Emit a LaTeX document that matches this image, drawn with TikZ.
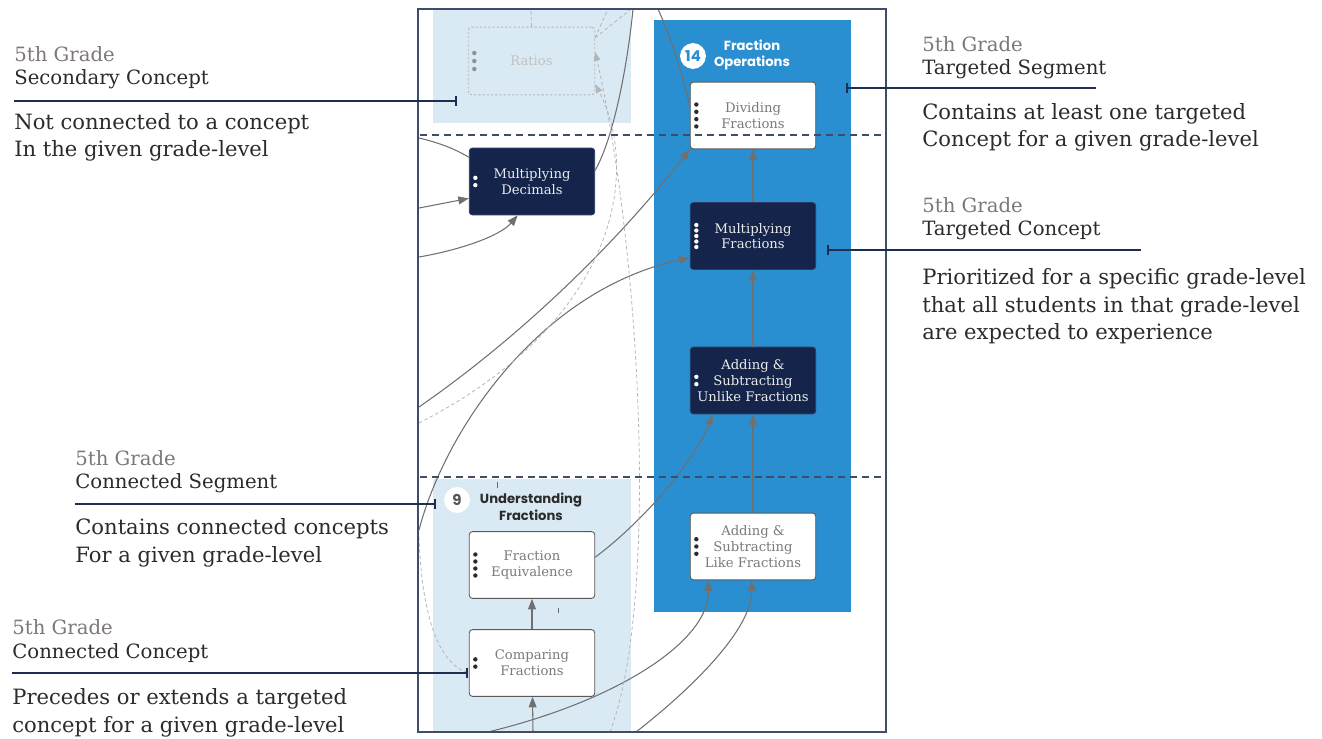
\documentclass[tikz,border=0pt]{standalone}
\usepackage{fontspec}
\setmainfont{DejaVu Serif}
\newfontfamily\segfont{Poppins}
\usetikzlibrary{arrows.meta,calc}

\definecolor{navy}{HTML}{14244A}
\definecolor{navyline}{HTML}{2A3A60}
\definecolor{segblue}{HTML}{2A8FD0}
\definecolor{seglight}{HTML}{DAEAF5}
\definecolor{framec}{HTML}{3F4D6B}
\definecolor{calloutc}{HTML}{1F2D50}
\definecolor{linkgray}{HTML}{707070}
\definecolor{ghost}{HTML}{B5B5B5}
\definecolor{capgray}{HTML}{7D7777}
\definecolor{darktext}{HTML}{2B2B2B}
\definecolor{boxtext}{HTML}{7A7A7A}
\definecolor{boxline}{HTML}{5A5A5A}

% dots on the left side of a concept box: node, count, spacing, colour
\newcommand{\conceptdots}[4]{%
  \foreach \k in {1,...,#2}
    \fill[#4] ($(#1.west)+(6.5,{(\k-(#2+1)/2)*#3})$) circle (1.25pt);}

\tikzset{
  concept/.style={draw=boxline, fill=white, rounded corners=1.8pt, line width=0.5pt,
    minimum width=71.4pt, minimum height=38pt, inner sep=1pt, align=center,
    text=boxtext, font=\fontsize{7.5}{9}\selectfont},
  targeted/.style={concept, fill=navy, draw=navyline, text=white!92!black},
  ghostbox/.style={concept, draw=ghost, fill=none, text=ghost!85!white,
    dash pattern=on 1.2pt off 1.2pt, minimum width=72pt, minimum height=38.5pt},
  link/.style={draw=linkgray, line width=0.6pt, -{Triangle[length=6pt,width=4.5pt]}},
  plainlink/.style={draw=linkgray, line width=0.6pt},
  ghostlink/.style={draw=ghost, dash pattern=on 2pt off 1.5pt, line width=0.45pt},
  ghostarrow/.style={ghostlink, -{Triangle[length=5pt,width=3.8pt]}},
  callout/.style={draw=calloutc, line width=0.7pt, -{Bar[width=6pt,line width=1pt]}},
  badge/.style={circle, fill=white, inner sep=0pt, minimum size=14.7pt,
    font=\segfont\bfseries\fontsize{8.5}{10}\selectfont},
  segtitle/.style={align=center, inner sep=0pt, font=\segfont\bfseries\fontsize{7.5}{9.6}\selectfont},
  captext/.style={anchor=base west, inner sep=0pt, align=left, text=darktext,
    font=\fontsize{11.2}{13.6}\selectfont},
  bodytext/.style={anchor=base west, inner sep=0pt, align=left, text=darktext,
    font=\fontsize{12}{15.9}\selectfont},
}

\begin{document}
\begin{tikzpicture}[x=0.02cm,y=-0.02cm]
  \useasboundingbox (0,0) rectangle (1322,739);

  % segments
  \fill[seglight] (433,9) rectangle (631,123);
  \fill[seglight] (433,479) rectangle (631,732);
  \fill[segblue] (654,20) rectangle (851,612);

  \node[badge, text=segblue] (opsnum) at (693,56) {14};
  \node[segtitle, text=white] (opstitle) at (752,55) {Fraction\\Operations};
  \node[badge, text=darktext!80] (undnum) at (457,500) {9};
  \node[segtitle, text=darktext] (undtitle) at (531,507) {Understanding\\Fractions};

  % concepts
  \node[ghostbox] (ratios) at (531.5,61) {Ratios};
  \node[concept] (divfrac) at (753,115.5) {Dividing\\Fractions};
  \node[targeted] (muldec) at (532,181.5) {Multiplying\\Decimals};
  \node[targeted] (mulfrac) at (753,236) {Multiplying\\Fractions};
  \node[targeted] (unlike) at (753,380.5) {Adding \&\\Subtracting\\Unlike Fractions};
  \node[concept] (like) at (753,546.5) {Adding \&\\Subtracting\\Like Fractions};
  \node[concept] (equiv) at (532,565) {Fraction\\Equivalence};
  \node[concept] (compare) at (532,663) {Comparing\\Fractions};

  \conceptdots{ratios}{3}{8}{ghost!80!black}
  \conceptdots{divfrac}{4}{7.3}{darktext}
  \conceptdots{muldec}{2}{7.3}{white}
  \conceptdots{mulfrac}{5}{5.5}{white}
  \conceptdots{unlike}{2}{7.3}{white}
  \conceptdots{like}{3}{7.3}{darktext}
  \conceptdots{equiv}{4}{7}{darktext}
  \conceptdots{compare}{2}{7.3}{darktext}

  % free ends on the frame
  \coordinate (inA) at (419,138);
  \coordinate (inB) at (419,208);
  \coordinate (inC) at (419,257);
  \coordinate (inD) at (419,407);
  \coordinate (inI) at (419,423);
  \coordinate (inE) at (419,530);
  \coordinate (inK) at (419,537);
  \coordinate (inF) at (488,732);
  \coordinate (inH) at (533,732);
  \coordinate (inJ) at (610,732);
  \coordinate (inG) at (636,732);
  \coordinate (outC) at (531,9);
  \coordinate (outD) at (608,9);
  \coordinate (outA) at (631,9);
  \coordinate (outE) at (633,9);
  \coordinate (outB) at (658,9);

  % connections
  \draw[link] (like) -- (unlike);
  \draw[link] (unlike) -- (mulfrac);
  \draw[link] (mulfrac) -- (divfrac);
  \draw[link] (compare) -- (equiv);
  \draw[link] (inH) -- (compare);
  \draw[plainlink] (inA) .. controls (440,143) and (455,149) .. (muldec.159);
  \draw[link] (inB) .. controls (435,205) and (450,202) .. (muldec.195);
  \draw[link] (inC) .. controls (460,250) and (500,236) .. (muldec.247);
  \draw[plainlink] (muldec.10) .. controls (615,135) and (628,60) .. (outE);
  \draw[plainlink] (outB) .. controls (672,40) and (684,80) .. (divfrac.172);
  \draw[link] (inD) .. controls (520,337) and (615,245) .. (divfrac.south west);
  \draw[link] (inE) .. controls (445,430) and (540,290) .. (mulfrac.199);
  \draw[link] (equiv.7) .. controls (645,520) and (695,460) .. (unlike.220);
  \draw[link] (inF) .. controls (620,700) and (710,640) .. (like.217);
  \draw[link] (inG) .. controls (690,690) and (752,630) .. (like.268);

  % secondary links
  \draw[ghostlink] (ratios.north) -- (outC);
  \draw[ghostlink] (ratios.20) -- (outD);
  \draw[ghostlink] (ratios.20) -- (outA);
  \draw[ghostarrow] (inI) .. controls (620,320) and (640,170) .. (ratios.340);
  \draw[ghostarrow] (inJ) .. controls (660,600) and (640,250) .. (ratios.8);
  \draw[ghostlink] (inK) .. controls (422,620) and (440,665) .. (compare.189);

  % grade-level separators and frame
  \draw[framec, line width=0.75pt, dash pattern=on 4pt off 2.8pt] (420,135) -- (884,135);
  \draw[framec, line width=0.75pt, dash pattern=on 4pt off 2.8pt] (420,477) -- (884,477);
  \draw[darktext!70, line width=0.4pt] (497,482) -- (497,488);
  \draw[darktext!70, line width=0.4pt] (558,608) -- (558,613);
  \draw[framec, line width=0.7pt] (418,9) rectangle (886,732);

  % callouts (nodes sit on the baseline of their last line)
  \node[captext] (seccap) at (14,85) {\textcolor{capgray}{5th Grade}\\Secondary Concept};
  \node[bodytext] (secbody) at (14,157) {Not connected to a concept\\In the given grade-level};
  \coordinate (secA) at (14,101);
  \coordinate (secB) at (457,101);
  \draw[callout] (secA) -- (secB);

  \node[captext] (tsegcap) at (922,75) {\textcolor{capgray}{5th Grade}\\Targeted Segment};
  \node[bodytext] (tsegbody) at (922,147) {Contains at least one targeted\\Concept for a given grade-level};
  \coordinate (tsegA) at (1096,88);
  \coordinate (tsegB) at (846,88);
  \draw[callout] (tsegA) -- (tsegB);

  \node[captext] (tconcap) at (922,236) {\textcolor{capgray}{5th Grade}\\Targeted Concept};
  \node[bodytext] (tconbody) at (922,340) {Prioritized for a specific grade-level\\that all students in that grade-level\\are expected to experience};
  \coordinate (tconA) at (1141,250);
  \coordinate (tconB) at (827,250);
  \draw[callout] (tconA) -- (tconB);

  \node[captext] (csegcap) at (75,489) {\textcolor{capgray}{5th Grade}\\Connected Segment};
  \node[bodytext] (csegbody) at (75,562) {Contains connected concepts\\For a given grade-level};
  \coordinate (csegA) at (75,504);
  \coordinate (csegB) at (436,504);
  \draw[callout] (csegA) -- (csegB);

  \node[captext] (cconcap) at (12,658) {\textcolor{capgray}{5th Grade}\\Connected Concept};
  \node[bodytext] (cconbody) at (12,732) {Precedes or extends a targeted\\concept for a given grade-level};
  \coordinate (cconA) at (12,673);
  \coordinate (cconB) at (468,673);
  \draw[callout] (cconA) -- (cconB);
\end{tikzpicture}
\end{document}
